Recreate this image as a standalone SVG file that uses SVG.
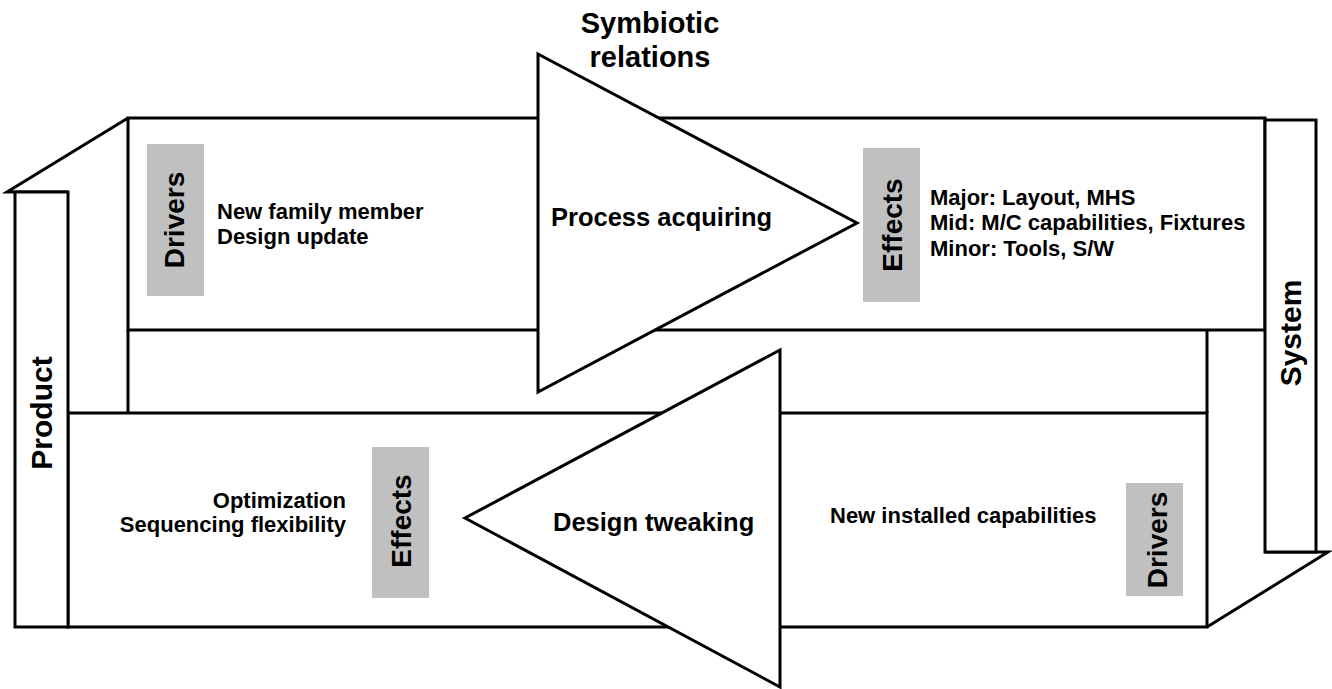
<svg xmlns="http://www.w3.org/2000/svg" width="1332" height="689" viewBox="0 0 1332 689">
<style>
.ln{fill:none;stroke:#000;stroke-width:3}
.sh{fill:#fff;stroke:#000;stroke-width:3}
.gray{fill:#c0c0c0}
text{font-family:"Liberation Sans",Arial,sans-serif;font-weight:bold;fill:#000}
.body{font-size:22px}
.big{font-size:25.5px}
.vl{font-size:28px}
.side{font-size:30px}
.title{font-size:29px}
</style>
<rect width="1332" height="689" fill="#fff"/>
<g id="frame">
<path class="sh" d="M128,118 H1265 V330 H128 Z"/>
<path class="sh" d="M68,413 H1207 V627 H68 Z"/>
<path class="ln" d="M128,330 V413"/>
<path class="ln" d="M1207,330 V413"/>
<path class="ln" d="M128,118 L7,192 H68"/>
<path class="ln" d="M1207,627 L1328,552 H1265"/>
</g>
<g id="product">
<rect class="sh" x="15" y="192" width="53" height="435"/>
<text class="side" text-anchor="middle" transform="translate(52,413) rotate(-90)">Product</text>
</g>
<g id="system">
<rect class="sh" x="1265" y="120" width="51" height="432"/>
<text class="side" text-anchor="middle" transform="translate(1301,333) rotate(-90)">System</text>
</g>
<g id="title">
<text class="title" text-anchor="middle" x="650" y="33">Symbiotic</text>
<text class="title" text-anchor="middle" x="650" y="67">relations</text>
</g>
<g id="process-acquiring">
<polygon class="sh" points="538,54 857,223 538,392"/>
<text class="big" x="551" y="226">Process acquiring</text>
</g>
<g id="design-tweaking">
<polygon class="sh" points="780,350 465,518 780,687"/>
<text class="big" x="553" y="531">Design tweaking</text>
</g>
<g id="product-drivers">
<rect class="gray" x="147" y="144" width="57" height="152"/>
<text class="vl" text-anchor="middle" transform="translate(184,220) rotate(-90)">Drivers</text>
<text class="body" x="217" y="219">New family member</text>
<text class="body" x="217" y="244">Design update</text>
</g>
<g id="system-effects">
<rect class="gray" x="863" y="148" width="57" height="154"/>
<text class="vl" text-anchor="middle" transform="translate(902,225) rotate(-90)">Effects</text>
<text class="body" x="930" y="205">Major: Layout, MHS</text>
<text class="body" x="930" y="230">Mid: M/C capabilities, Fixtures</text>
<text class="body" x="930" y="256">Minor: Tools, S/W</text>
</g>
<g id="product-effects">
<rect class="gray" x="372" y="447" width="57" height="151"/>
<text class="vl" text-anchor="middle" transform="translate(411,521) rotate(-90)">Effects</text>
<text class="body" text-anchor="end" x="346" y="508">Optimization</text>
<text class="body" text-anchor="end" x="346" y="532">Sequencing flexibility</text>
</g>
<g id="system-drivers">
<rect class="gray" x="1126" y="483" width="57" height="113"/>
<text class="vl" text-anchor="middle" transform="translate(1167,540) rotate(-90)">Drivers</text>
<text class="body" x="830" y="523">New installed capabilities</text>
</g>
<g id="connectors"/>
</svg>
